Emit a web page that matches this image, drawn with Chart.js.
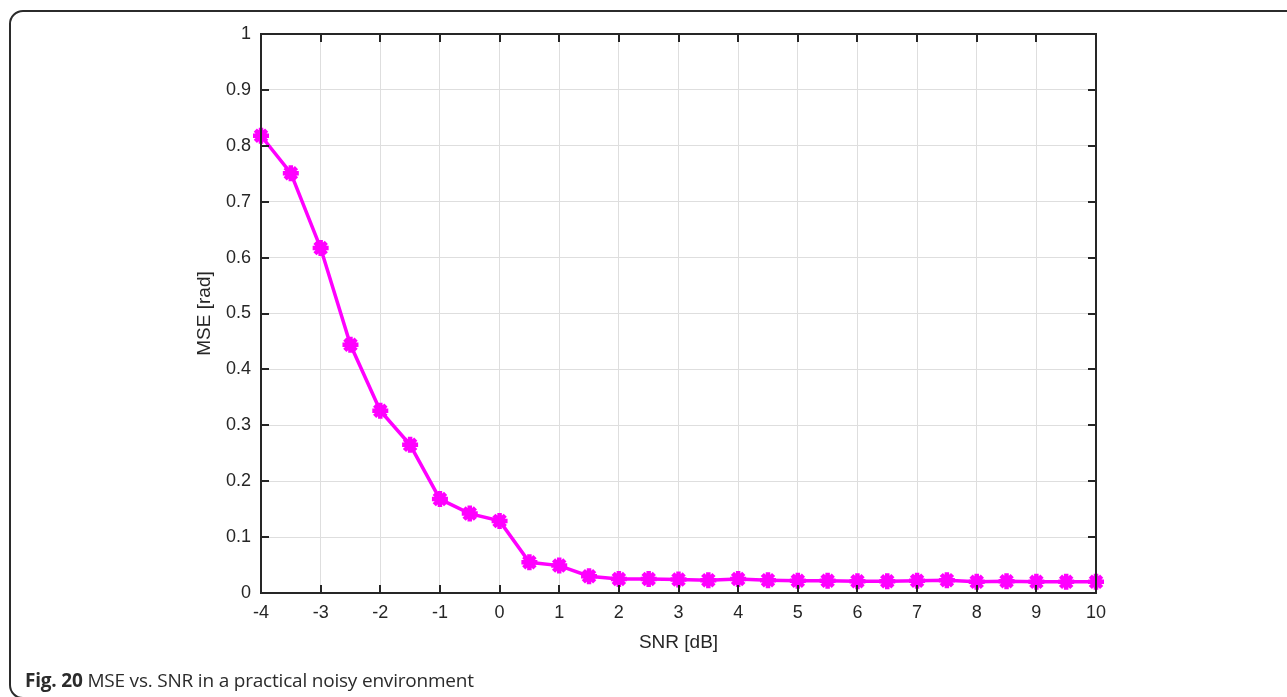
<!DOCTYPE html>
<html>
<head>
<meta charset="utf-8">
<script src="https://cdn.jsdelivr.net/npm/chart.js@4/dist/chart.umd.min.js"></script>
<style>
  html, body { margin: 0; padding: 0; background: #fff; }
  #wrap { position: relative; width: 1287px; height: 697px; overflow: hidden; }
  #frame {
    position: absolute; left: 9px; top: 10px; width: 1320px; height: 689px;
    border: 2px solid #2b2b2b; border-radius: 14px; box-sizing: border-box;
  }
  #caption {
    position: absolute; left: 25px; top: 667px;
    font-family: "Open Sans", sans-serif; font-size: 19px; color: #2b2b2b;
    letter-spacing: -0.2px;
  }
  canvas { position: absolute; left: 0; top: 0; }
</style>
</head>
<body>
<div id="wrap">
  <div id="frame"></div>
  <canvas id="grafico" width="1287" height="697"></canvas>
  <div id="caption"><b>Fig. 20</b> MSE vs. SNR in a practical noisy environment</div>
</div>
<script>
// dados
const snr = [-4, -3.5, -3, -2.5, -2, -1.5, -1, -0.5, 0, 0.5, 1, 1.5, 2, 2.5, 3, 3.5, 4,
             4.5, 5, 5.5, 6, 6.5, 7, 7.5, 8, 8.5, 9, 9.5, 10];
const mse = [0.818, 0.751, 0.617, 0.444, 0.326, 0.265, 0.168, 0.142, 0.129, 0.055, 0.049,
             0.030, 0.025, 0.025, 0.024, 0.023, 0.025, 0.023, 0.022, 0.022, 0.021, 0.021,
             0.022, 0.023, 0.020, 0.021, 0.020, 0.020, 0.020];
const xTicks = [-4, -3, -2, -1, 0, 1, 2, 3, 4, 5, 6, 7, 8, 9, 10];
const yTicks = [0, 0.1, 0.2, 0.3, 0.4, 0.5, 0.6, 0.7, 0.8, 0.9, 1];
const tituloX = 'SNR [dB]';
const tituloY = 'MSE [rad]';

const corEixo = '#262626';
const fonte = '"Liberation Sans", Arial, sans-serif';

// caixa do eixo com marcas para dentro (estilo MATLAB) + títulos dos eixos
const caixaEixos = {
  id: 'caixaEixos',
  afterDatasetsDraw(chart) {
    const { ctx, chartArea: a, scales } = chart;
    ctx.save();
    ctx.strokeStyle = corEixo;
    ctx.lineWidth = 2;
    ctx.beginPath();
    xTicks.forEach(v => {
      const x = Math.round(scales.x.getPixelForValue(v));
      ctx.moveTo(x, a.bottom); ctx.lineTo(x, a.bottom - 8);
      ctx.moveTo(x, a.top); ctx.lineTo(x, a.top + 8);
    });
    yTicks.forEach(v => {
      const y = Math.round(scales.y.getPixelForValue(v));
      ctx.moveTo(a.left, y); ctx.lineTo(a.left + 8, y);
      ctx.moveTo(a.right, y); ctx.lineTo(a.right - 8, y);
    });
    ctx.stroke();
    ctx.strokeRect(a.left, a.top, a.right - a.left, a.bottom - a.top);

    ctx.fillStyle = corEixo;
    ctx.font = '19px ' + fonte;
    ctx.textAlign = 'center';
    ctx.textBaseline = 'middle';
    ctx.fillText(tituloX, (a.left + a.right) / 2, a.bottom + 50);
    ctx.translate(a.left - 56, (a.top + a.bottom) / 2);
    ctx.rotate(-Math.PI / 2);
    ctx.fillText(tituloY, 0, 0);
    ctx.restore();
  }
};

new Chart(document.getElementById('grafico'), {
  type: 'line',
  data: {
    datasets: [{
      label: 'MSE',
      data: snr.map((x, i) => ({ x: x, y: mse[i] })),
      borderColor: '#ff00ff',
      backgroundColor: '#ff00ff',
      borderWidth: 3.5,
      pointStyle: 'star',
      pointRadius: 8,
      pointBorderWidth: 4.5,
      tension: 0,
      clip: false
    }]
  },
  options: {
    responsive: false,
    animation: false,
    layout: { padding: { left: 0, right: 191, top: 34, bottom: 0 } },
    plugins: { legend: { display: false }, tooltip: { enabled: false } },
    scales: {
      x: {
        type: 'linear', min: -4, max: 10,
        afterBuildTicks: s => { s.ticks = xTicks.map(v => ({ value: v })); },
        afterFit: s => { s.height = 104; },
        grid: { color: '#dedede', lineWidth: 1, drawTicks: false },
        border: { display: false },
        ticks: {
          color: corEixo, padding: 9,
          font: { family: fonte, size: 18 },
          callback: v => String(v)
        }
      },
      y: {
        type: 'linear', min: 0, max: 1,
        afterBuildTicks: s => { s.ticks = yTicks.map(v => ({ value: v })); },
        afterFit: s => { s.width = 261; },
        grid: { color: '#dedede', lineWidth: 1, drawTicks: false },
        border: { display: false },
        ticks: {
          color: corEixo, padding: 10,
          font: { family: fonte, size: 18 },
          callback: v => String(v)
        }
      }
    }
  },
  plugins: [caixaEixos]
});
</script>
</body>
</html>
